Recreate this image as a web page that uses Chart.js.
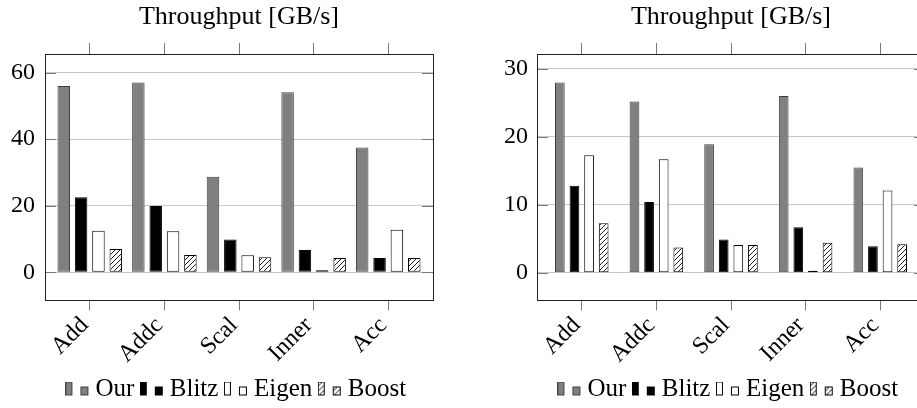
<!DOCTYPE html>
<html>
<head>
<meta charset="utf-8">
<script src="https://cdn.jsdelivr.net/npm/chart.js@4.4.1/dist/chart.umd.min.js"></script>
<style>
  html, body { margin: 0; padding: 0; background: #fff; overflow: hidden; }
  body { width: 917px; height: 408px; position: relative; }
  canvas { position: absolute; top: 0; }
</style>
</head>
<body>
<canvas id="left" width="460" height="408" style="left:0"></canvas>
<canvas id="right" width="470" height="408" style="left:460px"></canvas>
<script>
const categories = ["Add", "Addc", "Scal", "Inner", "Acc"];
const seriesNames = ["Our", "Blitz", "Eigen", "Boost"];

// left panel
const ourLeft = [56.0, 57.0, 28.7, 54.1, 37.5];
const blitzLeft = [22.5, 19.9, 9.8, 6.7, 4.3];
const eigenLeft = [12.5, 12.3, 5.1, 0.15, 12.8];
const boostLeft = [7.0, 5.2, 4.5, 4.3, 4.3];
const yTicksLeft = [0, 20, 40, 60];

// right panel
const ourRight = [28.0, 25.2, 18.9, 26.0, 15.5];
const blitzRight = [12.8, 10.4, 4.9, 6.7, 3.9];
const eigenRight = [17.3, 16.7, 4.1, 0.15, 12.1];
const boostRight = [7.3, 3.7, 4.1, 4.4, 4.2];
const yTicksRight = [0, 10, 20, 30];

const FONT = "'Liberation Serif', 'Times New Roman', serif";

function hatch() {
  const c = document.createElement('canvas');
  c.width = 5; c.height = 5;
  const g = c.getContext('2d');
  g.fillStyle = '#fff';
  g.fillRect(0, 0, 5, 5);
  g.strokeStyle = '#000';
  g.lineWidth = 0.9;
  g.beginPath();
  g.moveTo(-1, 6); g.lineTo(6, -1);
  g.moveTo(-6, 6); g.lineTo(1, -1);
  g.moveTo(4, 6); g.lineTo(11, -1);
  g.stroke();
  return g.createPattern(c, 'repeat');
}

const styles = [
  { fill: '#808080', border: '#404040' },
  { fill: '#000000', border: '#000000' },
  { fill: '#ffffff', border: '#000000' },
  { fill: null, border: '#000000' }
];

function legendIcon(i) {
  const c = document.createElement('canvas');
  c.width = 24; c.height = 15;
  const g = c.getContext('2d');
  g.fillStyle = styles[i].fill || hatch();
  g.strokeStyle = styles[i].border;
  g.lineWidth = 1;
  g.fillRect(0.5, 0.5, 6, 13);
  g.strokeRect(0.5, 0.5, 6, 13);
  g.fillRect(15.5, 5.5, 7, 8);
  g.strokeRect(15.5, 5.5, 7, 8);
  return c;
}

const frame = {
  id: 'frame',
  afterDraw(chart) {
    const { ctx, chartArea: a, scales } = chart;
    ctx.save();
    ctx.strokeStyle = '#7a7a7a';
    ctx.lineWidth = 1;
    scales.y.ticks.forEach(t => {
      const py = Math.round(scales.y.getPixelForValue(t.value)) + 0.5;
      ctx.beginPath();
      ctx.moveTo(a.left, py); ctx.lineTo(a.left + 11, py);
      ctx.moveTo(a.right, py); ctx.lineTo(a.right - 11, py);
      ctx.stroke();
    });
    ctx.strokeStyle = '#222';
    ctx.strokeRect(Math.round(a.left) + 0.5, Math.round(a.top) + 0.5,
      Math.round(a.right - a.left), Math.round(a.bottom - a.top));
    ctx.restore();
  }
};

function makeChart(id, series, yTicks, yMin, yMax, yPad, padLeft, padRight, catPct, barPct) {
  const datasets = series.map((vals, i) => ({
    label: seriesNames[i],
    data: vals.map((v, k) => ({ x: k, y: v })),
    backgroundColor: styles[i].fill || hatch(),
    borderColor: styles[i].border,
    borderWidth: 1,
    borderSkipped: false,
    minBarLength: 2,
    categoryPercentage: catPct,
    barPercentage: barPct
  }));
  const setTicks = list => s => { s.ticks = list.map(v => ({ value: v })); };
  const fixX = h => s => { s.height = h; s.paddingLeft = 0; s.paddingRight = 0; };
  const catIdx = categories.map((c, i) => i);
  return new Chart(document.getElementById(id), {
    type: 'bar',
    data: { datasets },
    options: {
      responsive: false,
      animation: false,
      layout: { padding: { left: padLeft, right: padRight, top: 0, bottom: -3.5 } },
      plugins: {
        title: {
          display: true,
          fullSize: false,
          text: 'Throughput [GB/s]',
          color: '#000',
          font: { family: FONT, size: 26, weight: 'normal' },
          padding: { top: 2, bottom: 9.8 }
        },
        legend: {
          position: 'bottom',
          fullSize: false,
          labels: {
            usePointStyle: true,
            pointStyleWidth: 11,
            padding: 12,
            color: '#000',
            font: { family: FONT, size: 25 },
            generateLabels: () => seriesNames.map((n, i) => ({
              text: n, pointStyle: legendIcon(i), datasetIndex: i,
              fillStyle: '#000', strokeStyle: '#000', lineWidth: 0, hidden: false
            }))
          }
        },
        tooltip: { enabled: false }
      },
      scales: {
        x: {
          type: 'linear',
          position: 'bottom',
          offset: false,
          min: -0.6, max: 4.6,
          afterBuildTicks: setTicks(catIdx),
          afterFit: fixX(65),
          grid: { offset: false, drawOnChartArea: false, drawTicks: true, tickLength: 11, color: '#7a7a7a' },
          border: { display: false },
          ticks: {
            autoSkip: false, maxRotation: 45, minRotation: 45, padding: 1, labelOffset: -5,
            color: '#000', font: { family: FONT, size: 24 },
            callback: v => categories[v]
          }
        },
        xTop: {
          type: 'linear',
          position: 'top',
          offset: false,
          min: -0.6, max: 4.6,
          afterBuildTicks: setTicks(catIdx),
          afterFit: fixX(11),
          grid: { offset: false, drawOnChartArea: false, drawTicks: true, tickLength: 11, color: '#7a7a7a' },
          border: { display: false },
          ticks: { display: false }
        },
        y: {
          min: yMin, max: yMax,
          afterBuildTicks: setTicks(yTicks),
          afterFit: s => { s.width = 45; },
          grid: { drawTicks: false, color: '#c8c8c8' },
          border: { display: false },
          ticks: { padding: yPad, color: '#000', font: { family: FONT, size: 24 } }
        }
      }
    },
    plugins: [frame]
  });
}

makeChart('left', [ourLeft, blitzLeft, eigenLeft, boostLeft], yTicksLeft, -8.2, 65.6, 10, 0, 27, 0.93, 0.72);
makeChart('right', [ourRight, blitzRight, eigenRight, boostRight], yTicksRight, -3.94, 32.2, 9, 32, 5, 0.783, 0.664);
</script>
</body>
</html>
